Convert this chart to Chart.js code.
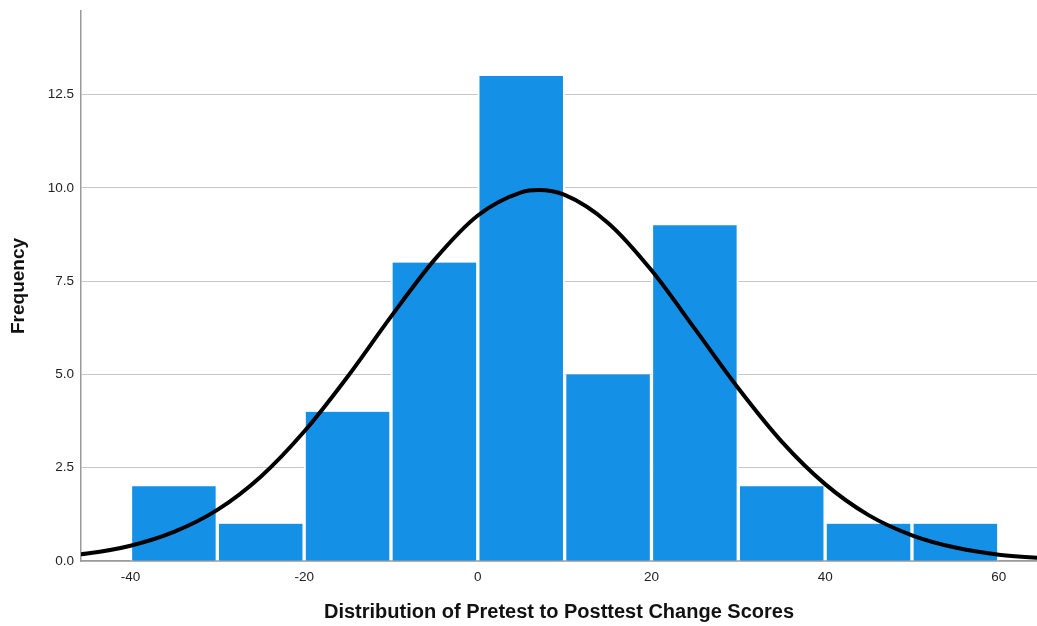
<!DOCTYPE html>
<html>
<head>
<meta charset="utf-8">
<title>Distribution of Pretest to Posttest Change Scores</title>
<script src="https://cdn.jsdelivr.net/npm/chart.js@4/dist/chart.umd.min.js"></script>
<style>
  html, body { margin: 0; padding: 0; background: #ffffff; }
  #wrap { width: 1037px; height: 626px; position: relative; }
  canvas { display: block; }
</style>
</head>
<body>
<div id="wrap"><canvas id="chart" width="1037" height="626"></canvas></div>
<script>
// Histogram bins (lower edges) and their frequencies
const binStarts = [-40, -30, -20, -10, 0, 10, 20, 30, 40, 50];
const binWidth = 10;
const frequencies = [2, 1, 4, 8, 13, 5, 9, 2, 1, 1];

// Fitted normal curve, sampled along the change-score axis
const curveX = [-50, -45, -40, -35, -30, -25, -20, -15, -10, -5, 0, 5, 7, 10, 15, 20, 25, 30, 35, 40, 45, 50, 55, 60, 65, 70];
const curveY = [0.09, 0.20, 0.41, 0.78, 1.37, 2.26, 3.47, 4.94, 6.55, 8.07, 9.26, 9.88, 9.94, 9.81, 9.06, 7.79, 6.22, 4.63, 3.20, 2.06, 1.23, 0.69, 0.36, 0.17, 0.08, 0.03];

// Axis ticks
const xTicks = [-40, -20, 0, 20, 40, 60];
const yTicks = [0, 2.5, 5, 7.5, 10, 12.5];
const xRange = [-45.7, 64.4];
const yRange = [0, 14.74];

const barPoints = binStarts.map((s, i) => ({ x: s + binWidth / 2, y: frequencies[i] }));
const curvePoints = curveX.map((x, i) => ({ x: x, y: curveY[i] }));

const FONT = "'Liberation Sans', Arial, sans-serif";

new Chart(document.getElementById('chart'), {
  type: 'bar',
  data: {
    datasets: [
      {
        type: 'line',
        data: curvePoints,
        borderColor: '#000000',
        borderWidth: 4,
        pointRadius: 0,
        fill: false,
        cubicInterpolationMode: 'monotone',
        clip: 0,
        order: 0
      },
      {
        type: 'bar',
        data: barPoints,
        backgroundColor: '#1490e6',
        borderColor: '#ffffff',
        borderWidth: { left: 2, right: 2, top: 0, bottom: 0 },
        borderSkipped: false,
        barPercentage: 1,
        categoryPercentage: 1,
        order: 1
      }
    ]
  },
  options: {
    responsive: false,
    animation: false,
    layout: { padding: { top: 11, right: 0, bottom: 0, left: 0 } },
    plugins: {
      legend: { display: false },
      tooltip: { enabled: false }
    },
    scales: {
      x: {
        type: 'linear',
        offset: false,
        min: xRange[0],
        max: xRange[1],
        afterBuildTicks: (scale) => { scale.ticks = xTicks.map(v => ({ value: v })); },
        afterFit: (scale) => { scale.height = 65; scale.paddingLeft = 0; scale.paddingRight = 0; },
        grid: { display: false, drawTicks: false },
        border: { display: true, color: '#9a9a9a', width: 1.5 },
        ticks: {
          padding: 8,
          color: '#222222',
          font: { family: FONT, size: 13.5 },
          maxRotation: 0,
          autoSkip: false,
          callback: (v) => String(v)
        },
        title: {
          display: true,
          text: 'Distribution of Pretest to Posttest Change Scores',
          color: '#111111',
          font: { family: FONT, size: 20, weight: 'bold' },
          padding: { top: 0, bottom: 1.5 }
        }
      },
      y: {
        type: 'linear',
        min: yRange[0],
        max: yRange[1],
        afterBuildTicks: (scale) => { scale.ticks = yTicks.map(v => ({ value: v })); },
        afterFit: (scale) => { scale.width = 81; scale.paddingTop = 0; scale.paddingBottom = 0; },
        grid: { display: true, color: '#c6c6c6', lineWidth: 1, drawTicks: false },
        border: { display: true, color: '#9a9a9a', width: 1.5 },
        ticks: {
          padding: 7,
          color: '#222222',
          font: { family: FONT, size: 13.5 },
          autoSkip: false,
          callback: (v) => Number(v).toFixed(1)
        },
        title: {
          display: true,
          text: 'Frequency',
          color: '#111111',
          font: { family: FONT, size: 19, weight: 'bold' },
          padding: { top: 7.3, bottom: 0 }
        }
      }
    }
  }
});
</script>
</body>
</html>
